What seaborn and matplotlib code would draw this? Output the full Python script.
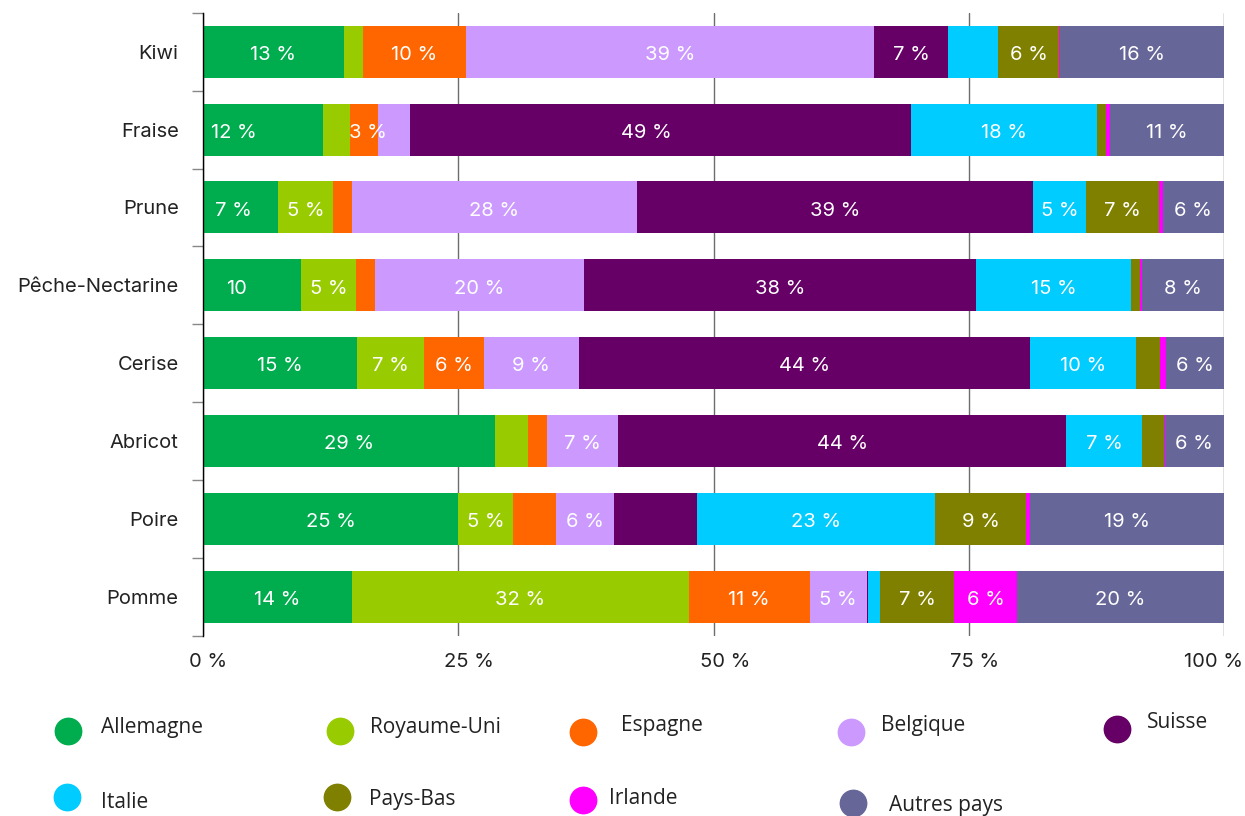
import numpy as np
import pandas as pd
import matplotlib
matplotlib.use("Agg")
import matplotlib.pyplot as plt
from matplotlib.lines import Line2D
from matplotlib.transforms import ScaledTranslation
import seaborn as sns

# ---------------- data ----------------
fruits = ["Kiwi", "Fraise", "Prune", "Pêche-Nectarine", "Cerise", "Abricot", "Poire", "Pomme"]
countries = ["Allemagne", "Royaume-Uni", "Espagne", "Belgique", "Suisse",
             "Italie", "Pays-Bas", "Irlande", "Autres pays"]

allemagne   = [13.4, 11.8, 7.3, 9.5, 15.1, 28.6, 25.0, 14.04]
royaume_uni = [1.85, 2.6, 5.46, 5.4, 6.6, 3.2, 5.4, 31.9]
espagne     = [9.85, 2.7, 1.8, 1.8, 5.8, 1.9, 4.2, 11.4]
belgique    = [38.9, 3.2, 27.9, 20.3, 9.3, 7.0, 5.6, 5.4]
suisse      = [7.07, 49.1, 38.8, 38.1, 44.2, 43.9, 8.2, 0.1]
italie      = [4.78, 18.2, 5.2, 15.0, 10.4, 7.4, 23.3, 1.16]
pays_bas    = [5.75, 0.85, 7.1, 0.9, 2.4, 2.2, 8.9, 7.0]
irlande     = [0.17, 0.4, 0.4, 0.15, 0.55, 0.05, 0.37, 5.95]
autres      = [15.6, 11.2, 6.0, 8.0, 5.7, 5.8, 19.0, 19.56]

series = [allemagne, royaume_uni, espagne, belgique, suisse, italie, pays_bas, irlande, autres]
colors = ["#00AD4E", "#99CC00", "#FF6600", "#CC99FF", "#660066",
          "#00CCFF", "#808000", "#FF00FF", "#666699"]

# label exceptions
hidden_labels = {("Poire", "Suisse")}
forced_labels = {("Fraise", "Espagne")}
text_override = {("Pêche-Nectarine", "Allemagne"): "10"}
label_shift = {("Fraise", "Allemagne"): -2.9, ("Fraise", "Suisse"): -1.4,
               ("Pêche-Nectarine", "Allemagne"): -1.5, ("Prune", "Allemagne"): -0.7,
               ("Fraise", "Espagne"): 0.4}

xticks = [0, 25, 50, 75, 100]
xtick_labels = ["0 %", "25 %", "50 %", "75 %", "100 %"]

# ---------------- build frame ----------------
raw = np.array(series, dtype=float)          # countries x fruits
totals = raw.sum(axis=0)
share = raw / totals * 100                   # normalised to 100 %
cum_end = np.cumsum(share, axis=0)
cum_start = cum_end - share

rows = []
for i, c in enumerate(countries):
    for j, f in enumerate(fruits):
        rows.append(dict(country=c, fruit=f, raw=raw[i, j], share=share[i, j],
                         start=cum_start[i, j], end=cum_end[i, j]))
df = pd.DataFrame(rows)

# ---------------- figure ----------------
sns.set_theme(style="white")
plt.rcParams["font.family"] = ["Inter", "DejaVu Sans"]

fig = plt.figure(figsize=(12.45, 8.16), dpi=100)
ax = fig.add_axes([203 / 1245, 1 - 636 / 816, (1224 - 203) / 1245, (636 - 12.7) / 816])

# draw cumulative bars from last to first so each series overlays the next
for c, col in reversed(list(zip(countries, colors))):
    sub = df[df["country"] == c]
    sns.barplot(data=sub, x="end", y="fruit", order=fruits, orient="h",
                color=col, saturation=1, width=0.667, linewidth=0, ax=ax, zorder=2)

# value labels
for _, r in df.iterrows():
    key = (r["fruit"], r["country"])
    show = (r["share"] >= 5.0 or key in forced_labels) and key not in hidden_labels
    if not show:
        continue
    txt = text_override.get(key, f"{int(round(r['raw']))} %")
    y = fruits.index(r["fruit"])
    x = (r["start"] + r["end"]) / 2 + label_shift.get(key, 0)
    ax.text(x, y + 0.04, txt, ha="center", va="center",
            color="white", fontsize=14.5, zorder=5)

ax.set_xlim(0, 100)
ax.set_ylim(len(fruits) - 0.5, -0.5)
ax.set_xlabel("")
ax.set_ylabel("")
ax.set_xticks(xticks)
ax.set_xticklabels(xtick_labels, fontsize=14.5, color="#222222")
ax.tick_params(axis="x", length=0, pad=12)
# small horizontal nudges of the x labels, as in the reference
for lab, dx in zip(ax.get_xticklabels(), [5, 11, 12, 6, -11]):
    lab.set_transform(lab.get_transform() + ScaledTranslation(dx / 100, 0, fig.dpi_scale_trans))

ax.set_yticks(range(len(fruits)))
ax.set_yticklabels(fruits, fontsize=14.5, color="#222222")
ax.tick_params(axis="y", which="major", length=0, pad=17.5)
ax.set_yticks(np.arange(-0.5, len(fruits), 1), minor=True)
ax.tick_params(axis="y", which="minor", left=True, length=8, width=1, color="#888888")

ax.grid(axis="x", color="#6d6d6d", linewidth=1)
ax.grid(axis="y", visible=False)
ax.set_axisbelow(True)
for s in ["top", "right", "bottom"]:
    ax.spines[s].set_visible(False)
ax.spines["left"].set_color("black")
ax.spines["left"].set_linewidth(1)

# ---------------- legend (manual layout) ----------------
leg_marker_pos = [(68, 731), (340, 731), (583, 732), (851, 732), (1117, 729),
                  (67, 797), (337, 797), (583, 800), (853, 803)]
leg_text_pos = [(101, 728), (370, 727), (621, 726), (881, 725), (1147, 723),
                (101, 802), (369, 800), (609, 799), (889, 805)]
W, H = 1245, 816
for (mx, my), (tx, ty), lab, col in zip(leg_marker_pos, leg_text_pos, countries, colors):
    fig.add_artist(Line2D([mx / W], [1 - my / H], marker="o", markersize=19,
                          color=col, linestyle="none", transform=fig.transFigure))
    fig.text(tx / W, 1 - ty / H, lab, ha="left", va="center",
             fontsize=15, color="#222222", family=["Open Sans", "DejaVu Sans"])

fig.savefig("out.png", dpi=100)
